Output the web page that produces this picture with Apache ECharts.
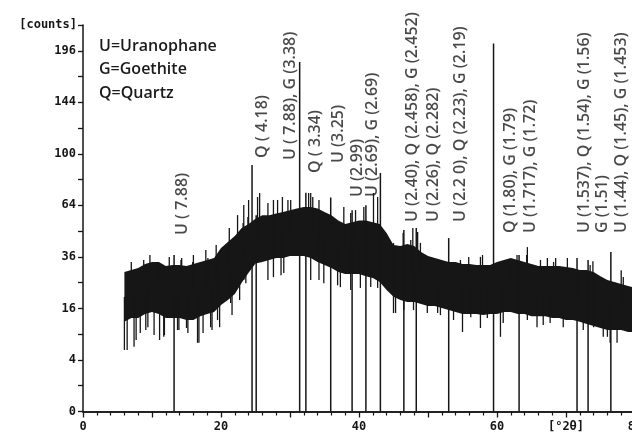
<!DOCTYPE html>
<html><head><meta charset="utf-8">
<script src="https://cdn.jsdelivr.net/npm/echarts/dist/echarts.min.js"></script>
<style>html,body{margin:0;padding:0;background:#fff}#c{width:632px;height:438px}</style>
</head><body><div id="c"></div>
<script>
// ---- data (counts, 2-theta in degrees) ----
const theta = [6,7,8,9,10,11,12,13,14,15,16,17,18,19,20,21,22,23,24,25,26,27,28,29,30,31,32,33,34,35,36,37,38,39,40,41,42,43,44,45,46,47,48,49,50,51,52,53,54,55,56,57,58,59,60,61,62,63,64,65,66,67,68,69,70,71,72,73,74,75,76,77,78,79,80];
const bandTop = [29.3,30.2,31.0,32.8,33.7,33.7,31.9,32.3,32.3,31.9,32.8,33.7,34.6,35.5,40.3,43.3,46.4,50.7,53.0,56.0,58.0,58.0,59.0,60.0,61.0,62.0,63.0,63.0,62.0,60.0,58.0,55.0,53.0,54.0,55.0,55.0,54.0,53.0,48.0,41.7,41.2,42.2,41.2,38.3,36.4,35.5,34.6,33.7,33.7,32.8,32.8,32.3,32.3,32.3,33.7,34.6,35.5,34.6,33.7,32.8,31.9,31.9,31.9,31.9,31.4,31.0,30.2,30.2,29.3,27.6,26.0,25.3,24.5,23.7,23.0];
const bandBottom = [12.1,13.2,13.2,14.3,14.9,14.3,13.2,13.2,13.2,12.6,12.6,13.7,14.3,14.9,17.1,18.7,20.8,25.0,29.0,33.0,33.7,34.6,35.5,35.5,36.4,36.4,36.4,35.5,33.7,32.3,31.0,29.3,28.5,28.5,28.5,27.6,26.8,25.3,22.2,19.8,18.7,18.1,18.1,17.4,16.8,16.8,16.1,15.5,14.9,14.3,14.3,14.3,14.0,14.3,14.3,14.9,14.9,14.3,14.3,13.7,13.7,13.7,13.2,13.2,12.6,12.6,12.1,11.5,11.0,10.5,10.0,10.0,10.0,9.5,9.5];
const spikeTheta = [
  6.0,6.4,7.4,7.7,8.3,9.1,9.4,10.3,11.1,11.7,11.8,13.7,13.9,15.0,15.2,16.6,16.8,17.4,18.5,18.7,19.5,19.8,21.4,21.6,22.7,23.3,23.6,26.8,27.6,28.7,29.1,33.0,34.2,34.9,36.9,37.3,38.8,40.2,41.7,42.7,45.0,45.3,46.5,47.9,49.9,51.4,51.8,53.7,55.0,56.2,57.6,58.6,60.5,60.9,64.4,65.8,66.7,67.7,69.6,72.1,72.5,74.0,75.4,76.0,76.4,77.4,77.9,
  7.0,8.8,9.7,10.9,12.5,14.2,14.3,15.9,16.0,17.8,18.1,19.3,19.5,20.7,21.2,21.9,22.4,23.2,23.3,23.9,24.0,25.3,25.6,26.8,27.6,28.2,28.9,29.7,30.1,32.7,33.0,33.3,34.2,37.8,38.8,39.5,40.7,42.1,42.7,45.0,46.4,47.5,47.8,48.5,48.9,50.4,54.7,55.9,57.6,57.9,61.9,62.9,64.3,64.4,66.3,67.3,68.2,68.5,70.2,73.5,73.9,78.0,78.3];
const spikeCount = [
  5.7,5.7,6.3,7.7,9.3,10.0,10.7,8.8,7.7,8.4,8.8,10.0,10.0,10.5,9.3,7.1,7.1,9.3,10.7,10.0,12.6,10.7,17.7,14.0,18.7,26.0,24.8,26.0,27.2,28.0,28.9,26.0,26.0,24.8,24.0,23.3,22.2,23.0,23.3,23.0,14.6,14.6,15.5,15.5,14.6,14.6,14.0,12.6,9.5,13.4,10.5,13.2,8.4,11.8,12.6,10.7,11.3,11.8,10.7,12.6,10.0,10.7,8.4,8.4,7.1,7.1,10.7,
  33.7,34.6,36.9,33.7,36.0,34.6,35.5,33.7,36.9,39.3,35.5,41.7,34.6,41.7,50.7,45.3,58.1,53.5,64.2,57.0,67.4,69.3,71.9,65.5,67.4,67.4,69.3,67.4,67.4,71.9,71.9,69.3,67.4,63.0,59.3,61.1,63.0,71.9,69.3,42.8,48.0,44.3,50.7,48.5,42.8,36.0,34.6,36.0,36.0,36.9,34.6,36.9,36.9,40.7,34.6,35.5,33.7,35.5,35.5,32.3,34.0,30.0,27.2];
const peakTheta = [13.2,24.5,25.1,31.4,32.3,35.9,39.0,41.0,43.1,46.5,48.3,53.0,59.5,63.2,71.6,73.2,76.5];
const peakTop   = [36.9,91.5,58,184,72,69,61,64,85.7,49.6,50.7,45.3,204,36.9,35.5,34.6,38.3];
const labelText = ['U ( 7.88)','Q ( 4.18)','U ( 7.88), G (3.38)','Q ( 3.34)','U (3.25)','U (2.99)','U (2.69), G (2.69)','U (2.40), Q (2.458), G (2.452)','U (2.26), Q (2.282)','U (2.2 0), Q (2.23), G (2.19)','Q (1.80), G (1.79)','U (1.717), G (1.72)','U (1.537), Q (1.54), G (1.56)','G (1.51)','U (1.44), Q (1.45), G (1.453)'];
const labelTheta = [14.4,26.0,30.1,33.7,37.0,39.8,42.0,47.7,50.8,54.7,61.9,64.8,72.7,75.3,78.0];
const labelBase  = [46.9,96.8,95.2,85.7,93.0,69.3,69.3,54.1,54.1,54.1,48.0,48.0,48.0,48.0,48.0];
const legendLines = ['U=Uranophane','G=Goethite','Q=Quartz'];
const yTickCounts = [0,4,16,36,64,100,144,196];
const xTickLabels = {0:'0',20:'20',40:'40',60:'60',70:'[°2θ]',80:'80'};

// ---- chart ----
const sq = v => Math.sqrt(v);
const INK = '#161616';
const monoFont = 'DejaVu Sans Mono';
const chart = echarts.init(document.getElementById('c'), null, {renderer:'canvas'});
function nearestIdx(t){let b=0;for(let i=0;i<theta.length;i++){if(Math.abs(theta[i]-t)<Math.abs(theta[b]-t))b=i;}return b;}

chart.setOption({
  animation:false,
  backgroundColor:'#ffffff',
  grid:{left:83,right:-3,top:25,bottom:26.5,containLabel:false,outerBoundsMode:'none'},
  xAxis:[{
    type:'value',min:0,max:80,interval:10,position:'bottom',
    axisLine:{show:true,onZero:false,lineStyle:{color:INK,width:1.5}},
    axisTick:{show:true,length:6,lineStyle:{color:INK,width:1.3}},
    minorTick:{show:true,splitNumber:5,length:4,lineStyle:{color:INK,width:1.2}},
    splitLine:{show:false},
    axisLabel:{margin:9,interval:0,color:INK,fontFamily:monoFont,fontWeight:'bold',fontSize:12,
      hideOverlap:false,showMaxLabel:true,
      formatter:v=> (xTickLabels[v]!==undefined?xTickLabels[v]:'')}
  },{
    type:'value',min:0,max:80,position:'top',
    axisLine:{show:true,lineStyle:{color:INK,width:1.6}},
    axisTick:{show:false},axisLabel:{show:false},splitLine:{show:false}
  }],
  yAxis:{
    type:'value',min:0,max:15,interval:1,
    axisLine:{show:true,onZero:false,lineStyle:{color:INK,width:1.5}},
    axisTick:{show:true,length:5,lineStyle:{color:INK,width:1.3}},
    splitLine:{show:false},
    axisLabel:{margin:7,color:INK,fontFamily:monoFont,fontWeight:'bold',fontSize:12,
      formatter:v=>{const c=v*v;return yTickCounts.indexOf(c)>=0?String(c):'';}},
    name:'[counts]',nameLocation:'end',nameGap:0,
    nameTextStyle:{color:INK,fontFamily:monoFont,fontWeight:'bold',fontSize:12,align:'right',verticalAlign:'middle',padding:[0,6,0,0]}
  },
  graphic: legendLines.map((t,i)=>({type:'text',x:99,y:46+i*23.5,
    style:{text:t,fill:'#1a1a1a',font:'600 16px "Open Sans"',verticalAlign:'middle'}})),
  series:[
    { // dense noise band
      type:'custom',data:[[theta[0],0]],silent:true,z:2,clip:false,
      renderItem:(params,api)=>{
        const pts=[];
        for(let i=0;i<theta.length;i++) pts.push(api.coord([theta[i],sq(bandTop[i])]));
        for(let i=theta.length-1;i>=0;i--) pts.push(api.coord([theta[i],sq(bandBottom[i])]));
        return {type:'polygon',shape:{points:pts},style:{fill:INK}};
      }
    },
    { // noise spikes
      type:'custom',silent:true,z:3,
      data:spikeTheta.map((t,i)=>[t,sq(spikeCount[i])]),
      renderItem:(params,api)=>{
        const t=api.value(0),v=api.value(1),k=nearestIdx(t);
        const mid=(sq(bandTop[k])+sq(bandBottom[k]))/2;
        const a=api.coord([t,mid]),b=api.coord([t,v]);
        return {type:'line',shape:{x1:a[0],y1:a[1],x2:b[0],y2:b[1]},style:{stroke:INK,lineWidth:1.3}};
      }
    },
    { // peak lines
      type:'custom',silent:true,z:4,
      data:peakTheta.map((t,i)=>[t,sq(peakTop[i])]),
      renderItem:(params,api)=>{
        const a=api.coord([api.value(0),0]),b=api.coord([api.value(0),api.value(1)]);
        return {type:'line',shape:{x1:a[0],y1:a[1],x2:b[0],y2:b[1]},style:{stroke:INK,lineWidth:1.5}};
      }
    },
    { // peak labels
      type:'scatter',silent:true,z:5,symbol:'circle',symbolSize:1,clip:false,
      itemStyle:{color:'rgba(0,0,0,0)'},
      labelLayout:{hideOverlap:false},
      data:labelTheta.map((t,i)=>[t,sq(labelBase[i])]),
      label:{show:true,position:'inside',rotate:90,align:'left',verticalAlign:'middle',
        color:'#1a1a1a',fontFamily:'Open Sans',fontWeight:600,fontSize:16,
        formatter:p=>labelText[p.dataIndex]}
    }
  ]
});
</script></body></html>
